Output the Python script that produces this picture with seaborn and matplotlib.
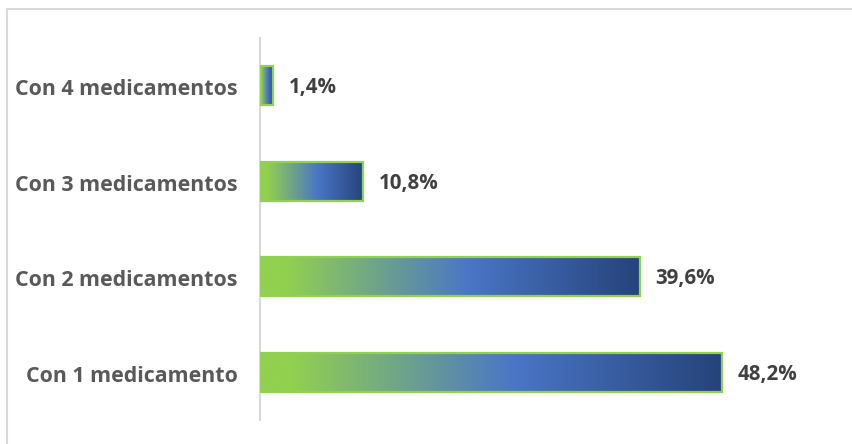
import numpy as np
import pandas as pd
import matplotlib
matplotlib.use("Agg")
import matplotlib.pyplot as plt
from matplotlib.colors import LinearSegmentedColormap
from matplotlib.transforms import ScaledTranslation
import seaborn as sns

categorias = ["Con 4 medicamentos", "Con 3 medicamentos", "Con 2 medicamentos", "Con 1 medicamento"]
porcentajes = [1.4, 10.8, 39.6, 48.2]
etiquetas = ["1,4%", "10,8%", "39,6%", "48,2%"]

df = pd.DataFrame({"categoria": categorias, "porcentaje": porcentajes})

sns.set_theme(style="white")
plt.rcParams["font.family"] = ["Open Sans", "DejaVu Sans"]

fig = plt.figure(figsize=(8.53, 4.44), dpi=100)
ax = fig.add_axes([260 / 853, 1 - 420 / 444, 575 / 853, 382 / 444])

sns.barplot(data=df, x="porcentaje", y="categoria", order=categorias,
            orient="h", width=0.41, color="#92D050", ax=ax)

# horizontal gradient green -> blue -> navy inside each bar
cmap = LinearSegmentedColormap.from_list(
    "verde_azul",
    [(0.0, "#92D050"), (0.07, "#92D050"), (0.55, "#4A76C6"), (1.0, "#26437A")])
grad = np.linspace(0, 1, 256).reshape(1, -1)
for p in ax.patches:
    x0, y0 = p.get_x(), p.get_y()
    w, h = p.get_width(), p.get_height()
    p.set_facecolor("none")
    p.set_edgecolor("#92D050")
    p.set_linewidth(1.6)
    p.set_zorder(3)
    im = ax.imshow(grad, cmap=cmap, aspect="auto",
                   extent=(x0, x0 + w, y0 + h, y0), zorder=2,
                   interpolation="bilinear")
    im.set_clip_path(p)

ax.set_xlim(0, 60)
ax.set_ylim(3.5, -0.5)

for i, (v, t) in enumerate(zip(porcentajes, etiquetas)):
    ax.annotate(t, xy=(v, i), xytext=(11, -1.5), textcoords="offset points",
                va="center", ha="left", fontsize=14.8, fontweight="bold",
                color="#404040")

ax.set_xlabel("")
ax.set_ylabel("")
ax.set_xticks([])
ax.tick_params(axis="y", length=0, pad=16)
shift = ScaledTranslation(0, -1.5 / 100, fig.dpi_scale_trans)
for lab in ax.get_yticklabels():
    lab.set_fontsize(15.4)
    lab.set_fontweight("bold")
    lab.set_color("#595959")
    lab.set_transform(lab.get_transform() + shift)

for s in ["top", "right", "bottom"]:
    ax.spines[s].set_visible(False)
ax.spines["left"].set_color("#D9D9D9")
ax.spines["left"].set_linewidth(1.5)

# outer frame of the chart area (only top and left edges fall inside the image)
fig.add_artist(plt.Line2D([7 / 853, 1.0], [1 - 9 / 444, 1 - 9 / 444],
                          transform=fig.transFigure, color="#D9D9D9", lw=1.5))
fig.add_artist(plt.Line2D([7 / 853, 7 / 853], [0, 1 - 9 / 444],
                          transform=fig.transFigure, color="#D9D9D9", lw=1.5))

fig.savefig("out.png", dpi=100, facecolor="white")
